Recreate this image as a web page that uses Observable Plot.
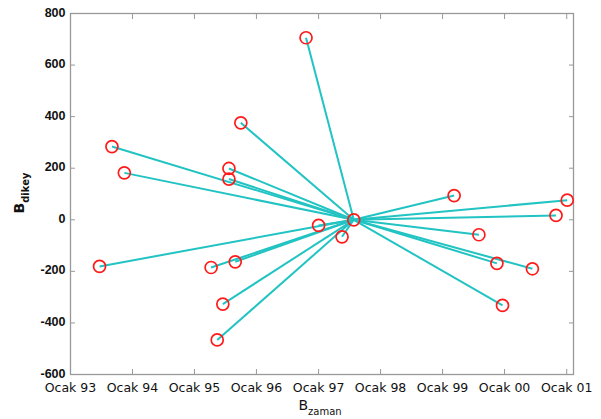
<!DOCTYPE html>
<html>
<head>
<meta charset="utf-8">
<script src="https://cdn.jsdelivr.net/npm/d3@7"></script>
<script src="https://cdn.jsdelivr.net/npm/@observablehq/plot@0.6"></script>
<style>
  html, body { margin: 0; padding: 0; background: #fff; }
  #chart svg { display: block; }
</style>
</head>
<body>
<div id="chart"></div>
<script>
// Data
const pointDates = [
  "1993-06-21", "1993-09-02", "1993-11-14", "1995-04-09", "1995-05-15",
  "1995-06-17", "1995-07-23", "1995-07-23", "1995-08-29", "1995-10-01",
  "1996-10-19", "1997-01-01", "1997-05-19", "1999-03-10", "1999-08-03",
  "1999-11-17", "1999-12-20", "2000-06-13", "2000-10-30", "2001-01-04"
];
const pointValues = [
  -181, 284, 182, -185, -466,
  -327, 199, 158, -163, 376,
  706, -22, -66, 94, -58,
  -169, -332, -190, 17, 76
];
const centerDate = "1997-07-27";
const centerValue = 0;
const tickYears = [1993, 1994, 1995, 1996, 1997, 1998, 1999, 2000, 2001];
const yTicks = [-600, -400, -200, 0, 200, 400, 600, 800];
const xLabel = ["B", "zaman"];
const yLabel = ["B", "dikey"];

const cDate = new Date(centerDate);
const points = pointDates.map((d, i) => ({date: new Date(d), value: pointValues[i]}));
const allPoints = points.concat([{date: cDate, value: centerValue}]);
const xTickDates = tickYears.map(y => new Date(Date.UTC(y, 0, 1)));
const fmt = d => "Ocak " + String(d.getUTCFullYear()).slice(2);

const lineColor = "#22c3c3";
const frameColor = "#999";

const chart = Plot.plot({
  width: 601,
  height: 419,
  marginLeft: 70,
  marginRight: 28,
  marginTop: 13,
  marginBottom: 45,
  style: {fontFamily: "DejaVu Sans, sans-serif", fontSize: "12.5px", color: "#111", background: "#fff"},
  x: {type: "utc", domain: [new Date("1993-01-01"), new Date("2001-02-10")]},
  y: {domain: [-600, 800]},
  marks: [
    Plot.frame({stroke: frameColor, strokeWidth: 1.3}),
    Plot.link(points, {
      x1: "date", y1: "value",
      x2: () => cDate, y2: () => centerValue,
      stroke: lineColor, strokeWidth: 2
    }),
    Plot.dot(allPoints, {x: "date", y: "value", r: 6, stroke: "#ff1a1a", strokeWidth: 1.7, fill: "none"}),
    // bottom axis labels
    Plot.axisX({ticks: xTickDates, tickFormat: fmt, tickSize: 0, tickPadding: 9, label: null, fontSize: 12.5}),
    // inward ticks
    Plot.axisX({ticks: xTickDates, tickFormat: () => "", tickSize: -5, label: null, stroke: frameColor}),
    Plot.axisX({anchor: "top", ticks: xTickDates, tickFormat: () => "", tickSize: -5, label: null, stroke: frameColor}),
    Plot.axisY({ticks: yTicks, tickFormat: d => String(d), tickSize: 0, tickPadding: 5, dy: -1, label: null, fontWeight: "bold", fontSize: 12.5, fontFamily: "Liberation Sans, Arial, sans-serif"}),
    Plot.axisY({ticks: yTicks, tickFormat: () => "", tickSize: -5, label: null, stroke: frameColor}),
    Plot.axisY({anchor: "right", ticks: yTicks, tickFormat: () => "", tickSize: -5, label: null, stroke: frameColor})
  ]
});

const ns = "http://www.w3.org/2000/svg";
function addLabel(svg, parts, x, y, rotate, bold) {
  const t = document.createElementNS(ns, "text");
  t.setAttribute("text-anchor", "middle");
  t.setAttribute("font-family", "DejaVu Sans, sans-serif");
  t.setAttribute("fill", "#111");
  t.setAttribute("transform", `translate(${x},${y}) rotate(${rotate})`);
  if (bold) t.setAttribute("font-weight", "bold");
  const a = document.createElementNS(ns, "tspan");
  a.setAttribute("font-size", "14");
  a.textContent = parts[0];
  const b = document.createElementNS(ns, "tspan");
  b.setAttribute("font-size", "10");
  b.setAttribute("dy", "5");
  b.textContent = parts[1];
  t.appendChild(a); t.appendChild(b);
  svg.appendChild(t);
}
addLabel(chart, xLabel, 320, 410, 0, false);
addLabel(chart, yLabel, 24, 193, -90, true);

document.getElementById("chart").appendChild(chart);
</script>
</body>
</html>
